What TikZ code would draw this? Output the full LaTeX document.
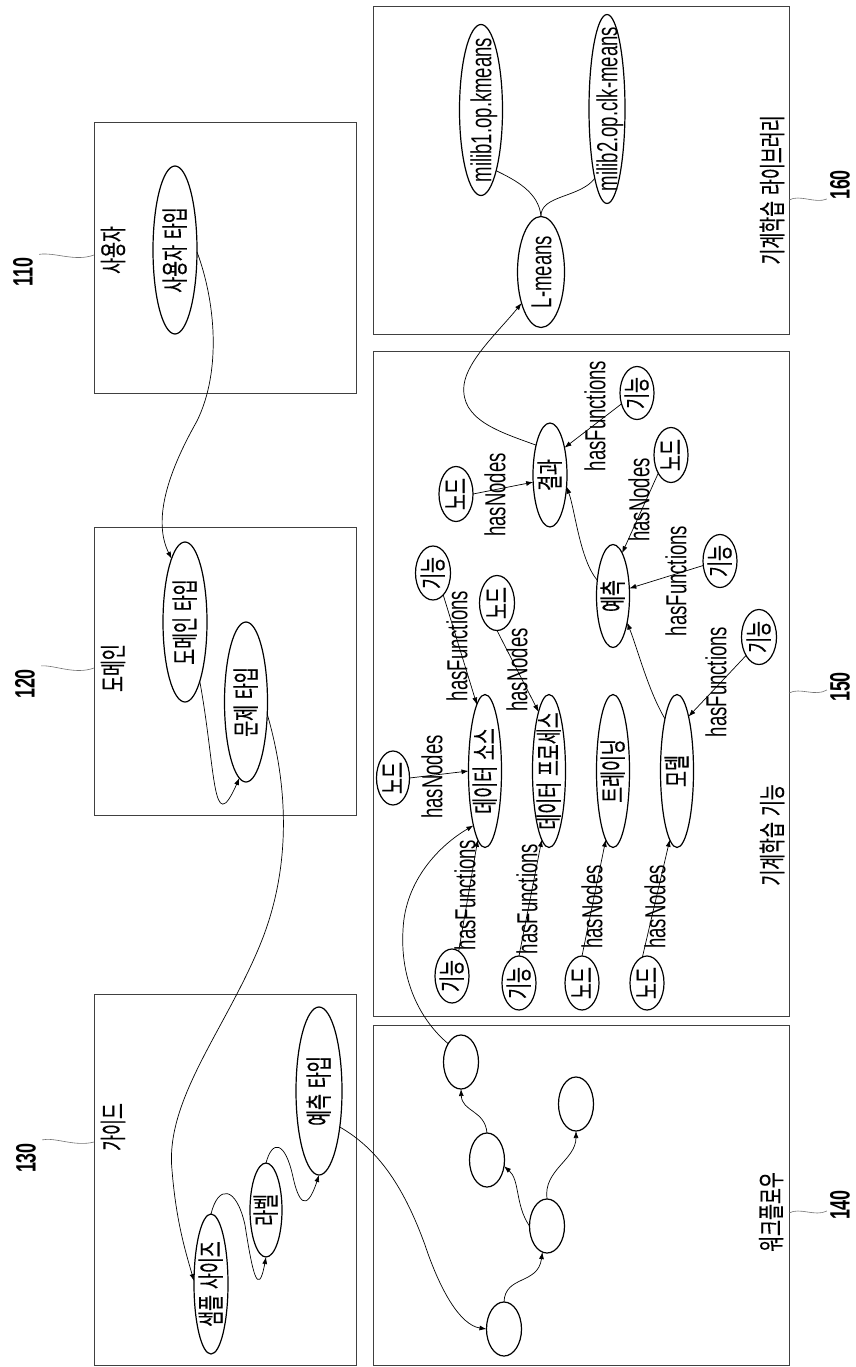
\documentclass[tikz,border=0pt]{standalone}
\usepackage{fontspec}
\usepackage{graphicx}
\usetikzlibrary{shapes.geometric,arrows.meta}
\newfontfamily\kr[FakeStretch=0.64,FakeBold=0.3]{Noto Sans CJK KR}
\newfontfamily\la[FakeStretch=0.64]{Liberation Sans}
\newcommand\ct[1]{\rotatebox{90}{\makebox[0pt]{\raisebox{-0.36em}[0pt][0pt]{#1}}}}
\newcommand\wsp{\hspace{0.22em}}
\begin{document}
\begin{tikzpicture}[x=1pt,y=-1pt,
  box/.style={draw=black!75,line width=1pt,inner sep=0pt,outer sep=0pt},
  oval/.style={draw,ellipse,line width=1.2pt,inner sep=0pt,outer sep=0pt},
  kt/.style={font=\kr\fontsize{27pt}{27pt}\selectfont},
  lt/.style={font=\la\fontsize{29pt}{29pt}\selectfont},
  num/.style={font=\la\bfseries\fontsize{28pt}{28pt}\selectfont,rotate=90,inner sep=0pt},
  lab/.style={rotate=90,inner sep=0pt},
  con/.style={line width=0.7pt},
  arr/.style={con,-{Latex[length=7pt,width=5pt]}},
  leader/.style={draw=black!55,line width=0.6pt}]
\useasboundingbox (0,0) rectangle (855,1367);
\fill[white] (0,0) rectangle (855,1367);

% boxes
\node[box,minimum width=262pt,minimum height=270pt] (b110) at (225,258) {};
\node[box,minimum width=262pt,minimum height=288pt] (b120) at (225,671) {};
\node[box,minimum width=262pt,minimum height=371pt] (b130) at (225,1179.5) {};
\node[box,minimum width=416pt,minimum height=340pt] (b140) at (581,1195) {};
\node[box,minimum width=416pt,minimum height=665pt] (b150) at (581,683.5) {};
\node[box,minimum width=416pt,minimum height=327pt] (b160) at (581,170.5) {};

% reference numbers and leaders
\node[num] (n110) at (23,272) {110};
\node[num] (n120) at (25,684) {120};
\node[num] (n130) at (26,1158) {130};
\node[num] (n140) at (840,1205) {140};
\node[num] (n150) at (840,687) {150};
\node[num] (n160) at (840,185) {160};
\coordinate (e110) at (94,255);
\coordinate (e120) at (94,668);
\coordinate (e130) at (94,1142);
\coordinate (e140) at (789,1213);
\coordinate (e150) at (789,693);
\coordinate (e160) at (789,200);
\draw[leader] (n110.south east) ++(6,-3) .. controls (55,252) and (75,262) .. (e110);
\draw[leader] (n120.south east) ++(6,-3) .. controls (55,665) and (75,675) .. (e120);
\draw[leader] (n130.south east) ++(6,-3) .. controls (55,1137) and (75,1147) .. (e130);
\draw[leader] (e140) .. controls (800,1207) and (815,1217) .. ([shift={(-3,6)}]n140.north);
\draw[leader] (e150) .. controls (800,687) and (815,697) .. ([shift={(-3,3)}]n150.north);
\draw[leader] (e160) .. controls (800,194) and (815,204) .. ([shift={(-3,14)}]n160.north);

% box labels
\node[lab,kt] (t110) at (113,250) {사용자};
\node[lab,kt] (t120) at (113,668) {도메인};
\node[lab,kt] (t130) at (113,1127) {가이드};
\node[lab,kt] (t140) at (771,1212) {워크플로우};
\node[lab,kt] (t150) at (772,835) {기계학습\wsp{}기능};
\node[lab,kt] (t160) at (772,190) {기계학습\wsp{}라이브러리};

% ellipses: user / domain / guide
\node[oval,kt,minimum width=44pt,minimum height=168pt] (ut) at (175,250) {\ct{사용자\wsp{}타입}};
\node[oval,kt,minimum width=44pt,minimum height=160pt] (dt) at (185,622) {\ct{도메인\wsp{}타입}};
\node[oval,kt,minimum width=43pt,minimum height=160pt] (pt) at (246,702) {\ct{문제\wsp{}타입}};
\node[oval,kt,minimum width=34pt,minimum height=140pt] (ss) at (211,1284) {\ct{샘플\wsp{}사이즈}};
\node[oval,kt,minimum width=32pt,minimum height=94pt] (lb) at (266,1210) {\ct{라벨}};
\node[oval,kt,minimum width=46pt,minimum height=168pt] (pr) at (319,1091) {\ct{예측\wsp{}타입}};

% workflow
\node[oval,minimum width=35pt,minimum height=54pt] (W1) at (504,1329) {};
\node[oval,minimum width=35pt,minimum height=54pt] (W2) at (547,1226) {};
\node[oval,minimum width=35pt,minimum height=54pt] (W3) at (487,1160) {};
\node[oval,minimum width=35pt,minimum height=54pt] (W4) at (461,1062) {};
\node[oval,minimum width=35pt,minimum height=54pt] (W5) at (576,1104) {};

% machine learning functions
\node[oval,kt,minimum width=33pt,minimum height=153pt] (dsrc) at (485,771) {\ct{데이터\wsp{}소스}};
\node[oval,kt,minimum width=33pt,minimum height=153pt] (dproc) at (549,771) {\ct{데이터\wsp{}프로세스}};
\node[oval,kt,minimum width=33pt,minimum height=153pt] (trn) at (613,771) {\ct{트레이닝}};
\node[oval,kt,minimum width=33pt,minimum height=153pt] (mdl) at (677,771) {\ct{모델}};
\node[oval,kt,minimum width=34pt,minimum height=104pt] (res) at (550,475) {\ct{결과}};
\node[oval,kt,minimum width=33pt,minimum height=103pt] (pred) at (613,596) {\ct{예측}};

\node[oval,kt,minimum width=34pt,minimum height=54pt] (f1) at (452,976) {\ct{기능}};
\node[oval,kt,minimum width=34pt,minimum height=54pt] (f2) at (519,983) {\ct{기능}};
\node[oval,kt,minimum width=34pt,minimum height=54pt] (n3) at (582,983) {\ct{노드}};
\node[oval,kt,minimum width=34pt,minimum height=54pt] (n4) at (647,983) {\ct{노드}};
\node[oval,kt,minimum width=33pt,minimum height=54pt] (n5) at (393,778) {\ct{노드}};
\node[oval,kt,minimum width=35pt,minimum height=54pt] (f6) at (433,573) {\ct{기능}};
\node[oval,kt,minimum width=35pt,minimum height=55pt] (n7) at (497,603) {\ct{노드}};
\node[oval,kt,minimum width=34pt,minimum height=55pt] (n8) at (456,494) {\ct{노드}};
\node[oval,kt,minimum width=34pt,minimum height=53pt] (f9) at (637,393) {\ct{기능}};
\node[oval,kt,minimum width=34pt,minimum height=55pt] (n10) at (671,455) {\ct{노드}};
\node[oval,kt,minimum width=34pt,minimum height=53pt] (f11) at (720,561) {\ct{기능}};
\node[oval,kt,minimum width=35pt,minimum height=55pt] (f12) at (759,637) {\ct{기능}};

% library
\node[oval,lt,minimum width=47pt,minimum height=111pt] (lm) at (541,272) {\ct{L-means}};
\node[oval,lt,minimum width=43pt,minimum height=171pt] (k1) at (481,110) {\ct{milib1.op.kmeans}};
\node[oval,lt,minimum width=36pt,minimum height=189pt] (k2) at (607,109) {\ct{milib2.op.clk-means}};

% edge labels
\node[lab,lt] (h1) at (465,895) {hasFunctions};
\node[lab,lt] (h2) at (527,899) {hasFunctions};
\node[lab,lt] (h3) at (592,907) {hasNodes};
\node[lab,lt] (h4) at (655,907) {hasNodes};
\node[lab,lt] (h5) at (432,777) {hasNodes};
\node[lab,lt] (h6) at (457,646) {hasFunctions};
\node[lab,lt] (h7) at (517,670) {hasNodes};
\node[lab,lt] (h8) at (495,495) {hasNodes};
\node[lab,lt] (h9) at (595,416) {hasFunctions};
\node[lab,lt] (h10) at (639,500) {hasNodes};
\node[lab,lt] (h11) at (676,581) {hasFunctions};
\node[lab,lt] (h12) at (716,682) {hasFunctions};

% connectors
\draw[arr] (ut.-5) .. controls (215,300) and (222,370) .. (197,421) .. controls (175,460) and (150,515) .. (dt.102);
\draw[arr] (dt.-76) .. controls (216,770) and (212,840) .. (pt.-95);
\draw[arr] (pt.-30) .. controls (285,775) and (295,860) .. (260,945) .. controls (225,1030) and (165,1100) .. (172,1170) .. controls (176,1220) and (185,1250) .. (ss.170);
\draw[arr] (ss.north) .. controls (218,1185) and (236,1185) .. (245,1225) .. controls (252,1270) and (258,1300) .. (lb.south);
\draw[arr] (lb.north) .. controls (272,1140) and (285,1140) .. (293,1177) .. controls (298,1200) and (306,1215) .. (pr.south);
\draw[arr] (pr.-60) .. controls (380,1150) and (405,1190) .. (425,1245) .. controls (440,1290) and (460,1325) .. (W1.west);
\draw[arr] (W1.north) .. controls (505,1275) and (538,1285) .. (W2.-100);
\draw[arr] (W2.west) .. controls (515,1205) and (520,1180) .. (W3.-20);
\draw[arr] (W2.north) .. controls (543,1170) and (576,1160) .. (W5.south);
\draw[arr] (W3.north) .. controls (485,1110) and (462,1112) .. (W4.south);
\draw[arr] (W4.125) .. controls (420,1020) and (400,980) .. (403,930) .. controls (405,880) and (440,845) .. (dsrc.-102);

\draw[arr] (f1.75) -- (dsrc.-96);
\draw[arr] (f2.north) -- (dproc.-96);
\draw[arr] (n3.north) -- (trn.-96);
\draw[arr] (n4.100) -- (mdl.-96);
\draw[arr] (n5.east) -- (dsrc.west);
\draw[arr] (f6.-65) -- (dsrc.97);
\draw[arr] (n7.south) -- (dproc.100);
\draw[arr] (n8.east) -- (res.203);
\draw[arr] (f9.215) -- (res.62);
\draw[arr] (n10.235) -- (pred.78);
\draw[arr] (f11.195) -- (pred.25);
\draw[arr] (f12.235) -- (mdl.78);
\draw[arr] (mdl.103) .. controls (648,690) and (638,650) .. (pred.-62);
\draw[arr] (pred.135) .. controls (580,560) and (575,510) .. (res.-35);
\draw[arr] (res.115) .. controls (500,432) and (460,420) .. (464,385) .. controls (467,360) and (500,330) .. (lm.-122);
\draw[con] (lm.north) .. controls (539,192) and (515,180) .. (k1.-76);
\draw[con] (lm.north) .. controls (540,195) and (580,198) .. (k2.-100);
\end{tikzpicture}
\end{document}
